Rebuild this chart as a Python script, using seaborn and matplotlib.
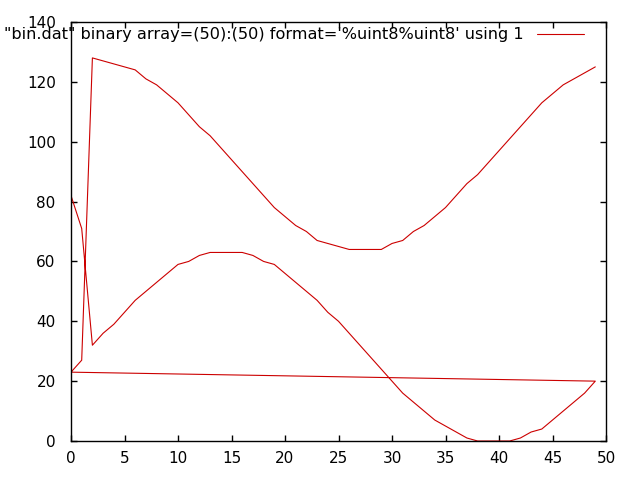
import numpy as np
import pandas as pd
import matplotlib
matplotlib.use("Agg")
import matplotlib.pyplot as plt
import seaborn as sns

# values: two scans of 50 points each
idx = list(range(50))
scan1 = [82, 71, 32, 36, 39, 43, 47, 50, 53, 56,
         59, 60, 62, 63, 63, 63, 63, 62, 60, 59,
         56, 53, 50, 47, 43, 40, 36, 32, 28, 24,
         20, 16, 13, 10, 7, 5, 3, 1, 0, 0,
         0, 0, 1, 3, 4, 7, 10, 13, 16, 20]
scan2 = [23, 27, 128, 127, 126, 125, 124, 121, 119, 116,
         113, 109, 105, 102, 98, 94, 90, 86, 82, 78,
         75, 72, 70, 67, 66, 65, 64, 64, 64, 64,
         66, 67, 70, 72, 75, 78, 82, 86, 89, 93,
         97, 101, 105, 109, 113, 116, 119, 121, 123, 125]
label = "\"bin.dat\" binary array=(50):(50) format='%uint8%uint8' using 1"

df = pd.DataFrame({"x": idx + idx, "y": scan1 + scan2})

sns.set_style("ticks")
plt.rcParams['font.family'] = ['DejaVu Sans']
plt.rcParams['text.color'] = 'black'

fig = plt.figure(figsize=(6.4, 4.8), dpi=100)
ax = fig.add_axes([71/640, 1 - 441/480, (606 - 71)/640, (441 - 22)/480])

sns.lineplot(data=df, x="x", y="y", sort=False, estimator=None,
             color="#cc0000", linewidth=0.8, label=label, ax=ax)

ax.set_xlim(0, 50)
ax.set_ylim(0, 140)
ax.set_xticks(range(0, 51, 5))
ax.set_yticks(range(0, 141, 20))
ax.set_xlabel("")
ax.set_ylabel("")
for s in ax.spines.values():
    s.set_visible(True)
    s.set_linewidth(1.0)
    s.set_color("black")
ax.tick_params(direction="in", length=4.5, width=1.0, top=True, right=True,
               labelsize=11, colors="black")
ax.tick_params(axis="x", pad=7.5)
ax.tick_params(axis="y", pad=11)

leg = ax.legend(loc="upper right", bbox_to_anchor=(0.959, 0.987), frameon=False,
                markerfirst=False, handlelength=2.9, fontsize=11.6,
                borderaxespad=0, borderpad=0, handletextpad=0.87)
for t in leg.get_texts():
    t.set_color("black")

fig.savefig("out.png", dpi=100)
